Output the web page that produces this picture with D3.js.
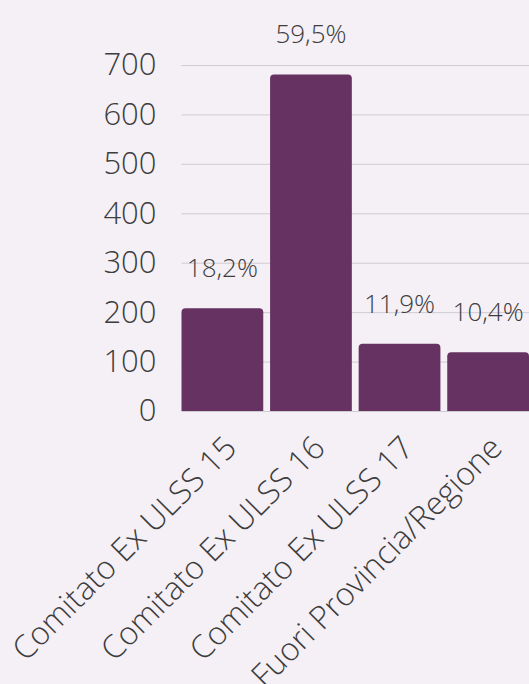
<!DOCTYPE html>
<html>
<head>
<meta charset="utf-8">
<script src="https://cdn.jsdelivr.net/npm/d3@7"></script>
<style>
  html, body { margin: 0; padding: 0; background: #f5f0f6; }
  svg { display: block; }
</style>
</head>
<body>
<svg id="chart" width="529" height="684"></svg>
<script>
// Provenienza dei pazienti per comitato
const categories = ["Comitato Ex ULSS 15", "Comitato Ex ULSS 16", "Comitato Ex ULSS 17", "Fuori Provincia/Regione"];
const counts = [208, 681, 136, 119];
const percentLabels = ["18,2%", "59,5%", "11,9%", "10,4%"];
const yTicks = [0, 100, 200, 300, 400, 500, 600, 700];

const width = 529, height = 684;
const margin = { top: 65, right: 0, bottom: 273, left: 181.5 };
const plotBottom = height - margin.bottom;
const FONT = "'Open Sans', sans-serif";
const TEXT_COLOR = "#3d3d3d";

const svg = d3.select("#chart");

const x = d3.scaleBand()
  .domain(categories)
  .range([margin.left, width - margin.right])
  .paddingInner(0.077)
  .paddingOuter(0);

const y = d3.scaleLinear()
  .domain([0, 700])
  .range([plotBottom, margin.top]);

function styleText(sel, size) {
  sel.attr("font-family", FONT)
    .attr("font-weight", 300)
    .attr("font-size", size)
    .attr("fill", TEXT_COLOR)
    .style("font-family", FONT)
    .style("font-weight", "300")
    .style("font-size", size + "px");
}

// Horizontal grid lines
svg.append("g")
  .selectAll("line")
  .data(yTicks)
  .join("line")
  .attr("x1", margin.left)
  .attr("x2", width)
  .attr("y1", d => y(d) + 0.5)
  .attr("y2", d => y(d) + 0.5)
  .attr("stroke", "#cfcbd2")
  .attr("stroke-width", 1);

// Y axis labels
const yAxis = d3.axisLeft(y).tickValues(yTicks).tickSize(0).tickPadding(0);
const yg = svg.append("g")
  .attr("transform", `translate(${margin.left - 25},0)`)
  .call(yAxis);
yg.select(".domain").remove();
yg.attr("font-family", null).attr("font-size", null);
styleText(yg.selectAll("text"), 31);

// Bars with rounded top corners
const r = 4;
function barPath(x0, y0, w, h) {
  const rr = Math.min(r, h);
  return `M${x0},${y0 + h}V${y0 + rr}Q${x0},${y0} ${x0 + rr},${y0}` +
         `H${x0 + w - rr}Q${x0 + w},${y0} ${x0 + w},${y0 + rr}V${y0 + h}Z`;
}
svg.append("g")
  .selectAll("path")
  .data(categories)
  .join("path")
  .attr("d", (c, i) => barPath(x(c), y(counts[i]), x.bandwidth(), plotBottom - y(counts[i])))
  .attr("fill", "#663262");

// Percentage labels above bars
const pct = svg.append("g")
  .selectAll("text")
  .data(categories)
  .join("text")
  .attr("x", c => x(c) + x.bandwidth() / 2)
  .attr("y", (c, i) => y(counts[i]) - 31)
  .attr("text-anchor", "middle")
  .text((c, i) => percentLabels[i]);
styleText(pct, 26);

// Rotated category labels
const cat = svg.append("g")
  .selectAll("text")
  .data(categories)
  .join("text")
  .attr("transform", c => `translate(${x(c) + x.bandwidth() / 2 + 8},${plotBottom + 31}) rotate(-45)`)
  .attr("text-anchor", "end")
  .attr("dy", "0.35em")
  .text(c => c);
styleText(cat, 32);
</script>
</body>
</html>
